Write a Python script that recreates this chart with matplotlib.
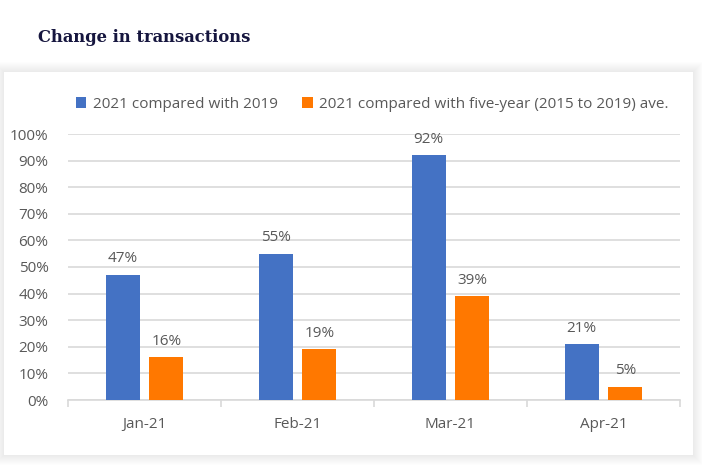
import numpy as np
import matplotlib.pyplot as plt
from matplotlib.patches import Rectangle

# data
months = ["Jan-21", "Feb-21", "Mar-21", "Apr-21"]
vs_2019 = [47, 55, 92, 21]
vs_5yr = [16, 19, 39, 5]
series_names = ["2021 compared with 2019",
                "2021 compared with five-year (2015 to 2019) ave."]

blue = "#4472c4"
orange = "#ff7800"
grey_txt = "#595959"
grid_col = "#d9d9d9"
font = "Open Sans"
fs = 11

W, H = 702, 466
fig = plt.figure(figsize=(W / 100, H / 100), dpi=100)
fig.patch.set_facecolor("white")

# chart card with soft shadow
for i in range(10):
    pad = 10 - i
    fig.patches.append(Rectangle(((4 - pad) / W, 1 - (455 + pad) / H),
                                 (689 + 2 * pad) / W, (383 + 2 * pad) / H,
                                 transform=fig.transFigure, facecolor="black",
                                 alpha=0.006, edgecolor="none", zorder=0))
fig.patches.append(Rectangle((4 / W, 1 - 455 / H), 689 / W, 383 / H,
                             transform=fig.transFigure, facecolor="white",
                             edgecolor="none", zorder=1))

fig.text(38 / W, 1 - 38 / H, "Change in transactions", family="DejaVu Serif",
         weight="bold", fontsize=11.8, color="#16163f", va="center", ha="left")

ax = fig.add_axes([68 / W, 1 - 400 / H, 612 / W, 266 / H])
ax.set_facecolor("none")
ax.set_zorder(2)

x = np.arange(len(months))
bw = 0.222
off = 0.142
b1 = ax.bar(x - off, vs_2019, bw, color=blue, zorder=3)
b2 = ax.bar(x + off, vs_5yr, bw, color=orange, zorder=3)

for bars, vals in [(b1, vs_2019), (b2, vs_5yr)]:
    for r, v in zip(bars, vals):
        ax.text(r.get_x() + r.get_width() / 2, v + 3.2, f"{v}%", ha="center",
                va="bottom", fontsize=fs, color=grey_txt, family=font,
                zorder=4)

ax.set_xlim(-0.5, 3.5)
ax.set_ylim(0, 100)
ax.set_yticks(range(0, 101, 10))
ax.set_yticklabels([f"{t}%" for t in range(0, 101, 10)])
ax.yaxis.grid(True, color=grid_col, linewidth=1.2, zorder=0)
ax.set_axisbelow(True)

ax.set_xticks(x)
ax.set_xticklabels(months)
ax.set_xticks(np.arange(-0.5, 4, 1), minor=True)
ax.tick_params(axis="x", which="major", length=0, pad=12)
ax.tick_params(axis="x", which="minor", length=5, color=grid_col, width=1.2)
ax.tick_params(axis="y", length=0, pad=14)
for lab in ax.get_xticklabels() + ax.get_yticklabels():
    lab.set_family(font)
    lab.set_fontsize(fs)
    lab.set_color(grey_txt)

for s in ["top", "right", "left"]:
    ax.spines[s].set_visible(False)
ax.spines["bottom"].set_color(grid_col)
ax.spines["bottom"].set_linewidth(1.2)

leg = fig.legend([b1, b2], series_names, loc="center left",
                 bbox_to_anchor=(62 / W, 1 - 104 / H), ncol=2, frameon=False,
                 handlelength=0.7, handleheight=0.7, handletextpad=0.4,
                 columnspacing=1.6, prop={"family": font, "size": fs})
for t in leg.get_texts():
    t.set_color(grey_txt)

fig.savefig("out.png", dpi=100)
